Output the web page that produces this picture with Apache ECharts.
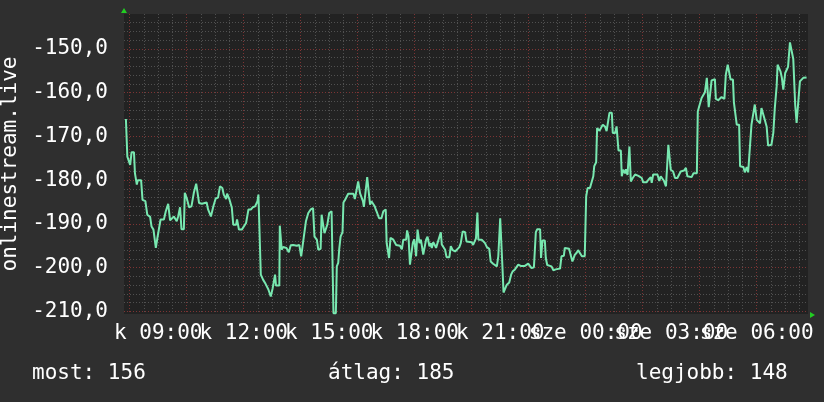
<!DOCTYPE html>
<html>
<head>
<meta charset="utf-8">
<script src="https://cdn.jsdelivr.net/npm/echarts@6/dist/echarts.min.js"></script>
<style>
html, body { margin: 0; padding: 0; background: #2f2f2f; }
#chart { width: 824px; height: 402px; }
</style>
</head>
<body>
<div id="chart"></div>
<script>
// Sample times: minutes since Tuesday 00:00 (the window runs from 07:48 to 07:48 next day)
const times = [
  472,475,481,484,489,491,495,497,504,507,
  513,517,523,526,530,535,538,542,545,552,
  556,561,565,568,573,579,582,586,589,594,
  596,600,605,610,615,620,623,626,632,635,
  642,645,651,656,661,666,670,675,678,683,
  685,690,695,698,704,706,710,716,719,725,
  730,735,739,744,749,751,754,756,761,766,
  772,777,781,786,788,795,796,800,803,810,
  815,819,
  824,832,837,841,843,845,849,851,856,861,
  866,869,874,877,882,884,888,890,893,896,
  900,905,907,909,914,916,919,921,924,928,
  930,933,937,940,951,954,958,961,965,968,
  971,973,977,980,984,986,989,993,996,998,
  1001,1005,1010,1014,1019,1021,1024,1026,1029,1035,
  1041,1045,1049,1053,1056,1062,1064,1067,1070,1074,
  1076,1079,1083,1086,1090,1093,1098,1102,1104,1107,
  1111,1114,1116,1119,1123,1125,1128,1132,1135,1137,
  1140,1144,1147,1153,1156,1160,1165,1168,1174,1177,
  1181,1186,1189,1193,1200,1203,1207,1209,1212,1214,
  1217,1221,1224,1228,1232,1237,1240,1245,1249,1253,
  1256,1260,1263,1265,1267,1270,1274,1279,1283,1286,
  1291,1295,1298,1303,1307,1312,1316,1319,1323,1326,
  1331,1335,1338,1344,1346,1349,1354,1356,1359,1363,
  1368,1372,1377,1380,1386,1389,1394,1396,1400,1405,
  1409,1412,1415,1417,1421,1424,1428,1432,1438,1441,
  1444,1449,1453,1456,1458,1462,1464,1469,1472,1476,
  1481,1484,1490,1495,1497,1502,1505,1509,1514,1516,
  1519,1523,1525,1528,1532,1535,
  1539,1544,1551,1558,1561,1568,1572,1577,1579,1582,
  1586,1591,1595,1598,1602,1605,1609,1612,1614,1617,
  1619,1624,1628,1633,1637,1640,1644,1647,1651,1654,
  1658,1663,1667,1674,1676,1679,1682,1684,1688,1691,
  1695,1697,1699,1703,1705,1712,1714,1719,1723,1726,
  1732,1735,1739,1742,1745,1750,1752,1756,1758,1763,
  1765,1772,1775,1779,1782,1786,1789,1793,1796,1800,
  1803,1807,1810,1814,1817,1821,1824,1831,1835,1838,
  1842,1844,1848,1850,1853,1856,1860,1863,1866,1870,
  1874,1877,1881,1884,1888,1891,1895,1898,1902,1905
];
const values = [
  -166.0,-174.6,-176.5,-173.6,-173.6,-178.4,-181.0,-180.0,-180.0,-184.5,
  -184.8,-187.9,-188.4,-190.6,-191.3,-195.5,-193.4,-193.4,-189.0,-189.0,
  -187.1,-185.4,-189.2,-188.9,-188.3,-189.4,-188.3,-186.2,-191.2,-191.2,
  -182.9,-184.1,-186.2,-186.0,-182.9,-180.8,-180.8,-185.2,-185.4,-185.1,
  -185.1,-186.7,-188.3,-186.0,-184.2,-184.0,-181.4,-181.8,-183.3,-184.3,
  -183.1,-184.4,-186.3,-190.2,-190.2,-189.0,-191.3,-191.3,-191.7,-189.8,
  -186.7,-186.7,-186.2,-186.0,-184.8,-183.3,-183.3,-201.6,-202.8,-203.7,
  -205.0,-206.6,-204.7,-201.6,-204.1,-204.1,-190.4,-195.9,-195.3,-195.5,
  -196.5,-194.9,
  -194.8,-195.0,-194.8,-197.4,-197.4,-194.2,-194.2,-189.4,-187.5,-186.7,
  -186.4,-192.9,-193.6,-195.9,-195.7,-187.9,-187.9,-192.1,-192.0,-190.2,
  -187.5,-187.1,-187.1,-210.4,-210.4,-199.7,-198.9,-195.9,-192.9,-191.9,
  -185.1,-184.6,-184.6,-183.1,-183.1,-184.3,-184.3,-180.3,-183.0,-183.1,
  -184.8,-186.1,-186.3,-179.3,-179.3,-185.6,-184.8,-185.1,-186.0,-186.7,
  -187.5,-188.7,-188.7,-187.1,-186.7,-194.4,-194.8,-197.8,-193.2,-193.6,
  -194.8,-194.8,-195.0,-195.8,-193.6,-193.6,-191.5,-192.9,-199.3,-199.3,
  -194.4,-193.5,-197.4,-191.3,-194.4,-193.6,-197.0,-197.0,-193.6,-192.9,
  -195.1,-194.4,-195.5,-194.2,-195.0,-195.5,-194.4,-194.0,-191.9,-194.7,
  -195.1,-195.9,-197.6,-197.6,-195.1,-196.0,-196.3,-196.0,-195.3,-194.4,
  -191.7,-191.9,-194.0,-194.2,-194.2,-194.8,-194.8,-193.3,-187.4,-193.6,
  -193.2,-193.6,-193.2,-194.4,-195.3,-195.7,-198.6,-199.1,-199.3,-199.7,
  -197.4,-188.7,-189.0,-200.5,-205.7,-205.7,-203.9,-203.4,-201.6,-200.9,
  -200.4,-200.1,-199.3,-199.6,-199.9,-199.6,-199.7,-199.1,-198.9,-200.1,
  -199.9,-191.9,-191.2,-191.2,-197.8,-193.8,-193.8,-197.8,-199.4,-199.6,
  -199.7,-200.6,-200.4,-200.2,-200.2,-197.4,-197.3,-195.5,-195.5,-195.7,
  -195.9,-198.6,-198.4,-197.1,-196.6,-196.0,-195.9,-197.4,-197.4,-183.7,
  -181.8,-181.8,-182.2,-179.1,-176.8,-175.9,-168.1,-168.7,-168.7,-167.3,
  -167.8,-168.8,-164.6,-164.6,-169.2,-169.2,-167.7,-173.2,-173.2,-179.1,
  -177.6,-178.4,-177.5,-178.8,-172.3,-180.3,
  -179.5,-178.7,-179.0,-179.5,-180.5,-180.5,-179.9,-179.3,-180.6,-178.7,
  -178.5,-178.7,-180.2,-179.1,-179.5,-180.2,-181.4,-181.8,-171.9,-171.9,
  -177.6,-178.0,-179.5,-179.5,-179.1,-178.0,-178.4,-177.8,-177.2,-179.1,
  -179.3,-179.3,-178.4,-178.4,-164.3,-163.1,-162.7,-161.2,-161.0,-159.9,
  -156.6,-156.6,-163.3,-163.3,-157.2,-156.9,-161.4,-161.7,-161.4,-161.0,
  -161.4,-155.9,-153.6,-153.6,-157.0,-157.0,-162.2,-162.5,-167.3,-167.3,
  -176.8,-177.0,-178.2,-177.0,-178.2,-178.2,-167.3,-167.1,-162.7,-166.2,
  -165.8,-167.0,-163.5,-163.5,-166.2,-167.8,-172.1,-171.9,-169.2,-163.7,
  -158.5,-153.6,-153.6,-155.1,-156.6,-159.3,-155.5,-154.8,-154.1,-148.5,
  -148.5,-152.3,-162.7,-166.9,-166.9,-157.4,-157.2,-156.6,-156.5,-156.5
];
// Axis window (hours since Tuesday 00:00) and value window
const xRange = [7.8, 31.8];
const yRange = [-210.6, -142];
const xTickLabels = ['k 09:00', 'k 12:00', 'k 15:00', 'k 18:00', 'k 21:00', 'sze 00:00', 'sze 03:00', 'sze 06:00'];
const yAxisName = 'onlinestream.live';
const legendLabels = ['most: 156', 'átlag: 185', 'legjobb: 148'];

const FONT = '"DejaVu Sans Mono", monospace';
const FS = 21;
const GRID = { left: 124, top: 14, right: 16, bottom: 88 };
const W = 824, H = 402;
const redGrid = { color: '#7d3434', width: 1, type: [1, 2] };
const grayGrid = { color: '#505050', width: 1, type: [1, 2] };

const seriesData = times.map((m, i) => [m / 60, values[i]]);

const chart = echarts.init(document.getElementById('chart'), null, { renderer: 'canvas' });
chart.setOption({
  animation: false,
  backgroundColor: '#2f2f2f',
  grid: {
    left: GRID.left, top: GRID.top, right: GRID.right, bottom: GRID.bottom,
    containLabel: false, outerBoundsMode: 'none',
    show: true, backgroundColor: '#222222', borderWidth: 0
  },
  xAxis: [
    {
      type: 'value', min: xRange[0], max: xRange[1],
      splitNumber: 8, minInterval: 3, maxInterval: 3,
      axisLine: { show: false }, axisTick: { show: false }, splitLine: { show: false },
      axisLabel: {
        color: '#ffffff', fontFamily: FONT, fontSize: FS, margin: 9,
        showMinLabel: false, showMaxLabel: false, hideOverlap: false,
        formatter: (h) => {
          const i = Math.round((h - 9) / 3);
          return xTickLabels[i] !== undefined ? xTickLabels[i] : '';
        }
      }
    },
    {
      type: 'value', min: xRange[0], max: xRange[1], position: 'bottom',
      splitNumber: 12, minInterval: 2, maxInterval: 2,
      axisLine: { show: false }, axisTick: { show: false }, axisLabel: { show: false },
      splitLine: { show: true, showMinLine: false, showMaxLine: false, lineStyle: redGrid },
      minorTick: { show: false, splitNumber: 4 },
      minorSplitLine: { show: true, lineStyle: grayGrid }
    }
  ],
  yAxis: {
    type: 'value', min: yRange[0], max: yRange[1],
    splitNumber: 7, minInterval: 10, maxInterval: 10,
    name: yAxisName, nameLocation: 'middle', nameRotate: 90, nameGap: 101,
    nameTextStyle: { color: '#ffffff', fontFamily: FONT, fontSize: FS },
    axisLine: { show: false }, axisTick: { show: false },
    axisLabel: {
      color: '#ffffff', fontFamily: FONT, fontSize: FS, margin: 16,
      showMinLabel: false, showMaxLabel: false,
      formatter: (v) => v.toFixed(1).replace('.', ',')
    },
    splitLine: { show: true, showMinLine: false, showMaxLine: false, lineStyle: redGrid },
    minorTick: { show: false, splitNumber: 5 },
    minorSplitLine: { show: true, lineStyle: grayGrid }
  },
  series: [{
    type: 'line', xAxisIndex: 0, data: seriesData,
    showSymbol: false, symbol: 'none', clip: true,
    lineStyle: { color: '#78e8b0', width: 2 },
    itemStyle: { color: '#78e8b0' }
  }],
  graphic: [
    { type: 'polygon', shape: { points: [[GRID.left - 3, GRID.top - 1], [GRID.left + 3, GRID.top - 1], [GRID.left, GRID.top - 6]] }, style: { fill: '#22cc22' }, z: 100 },
    { type: 'polygon', shape: { points: [[W - GRID.right + 2, H - GRID.bottom - 2], [W - GRID.right + 2, H - GRID.bottom + 4], [W - GRID.right + 7, H - GRID.bottom + 1]] }, style: { fill: '#22cc22' }, z: 100 },
    { type: 'text', x: 32, y: 374, style: { text: legendLabels[0], fill: '#ffffff', font: FS + 'px ' + FONT, verticalAlign: 'middle', align: 'left' } },
    { type: 'text', x: 328, y: 374, style: { text: legendLabels[1], fill: '#ffffff', font: FS + 'px ' + FONT, verticalAlign: 'middle', align: 'left' } },
    { type: 'text', x: 636, y: 374, style: { text: legendLabels[2], fill: '#ffffff', font: FS + 'px ' + FONT, verticalAlign: 'middle', align: 'left' } }
  ]
});
</script>
</body>
</html>
